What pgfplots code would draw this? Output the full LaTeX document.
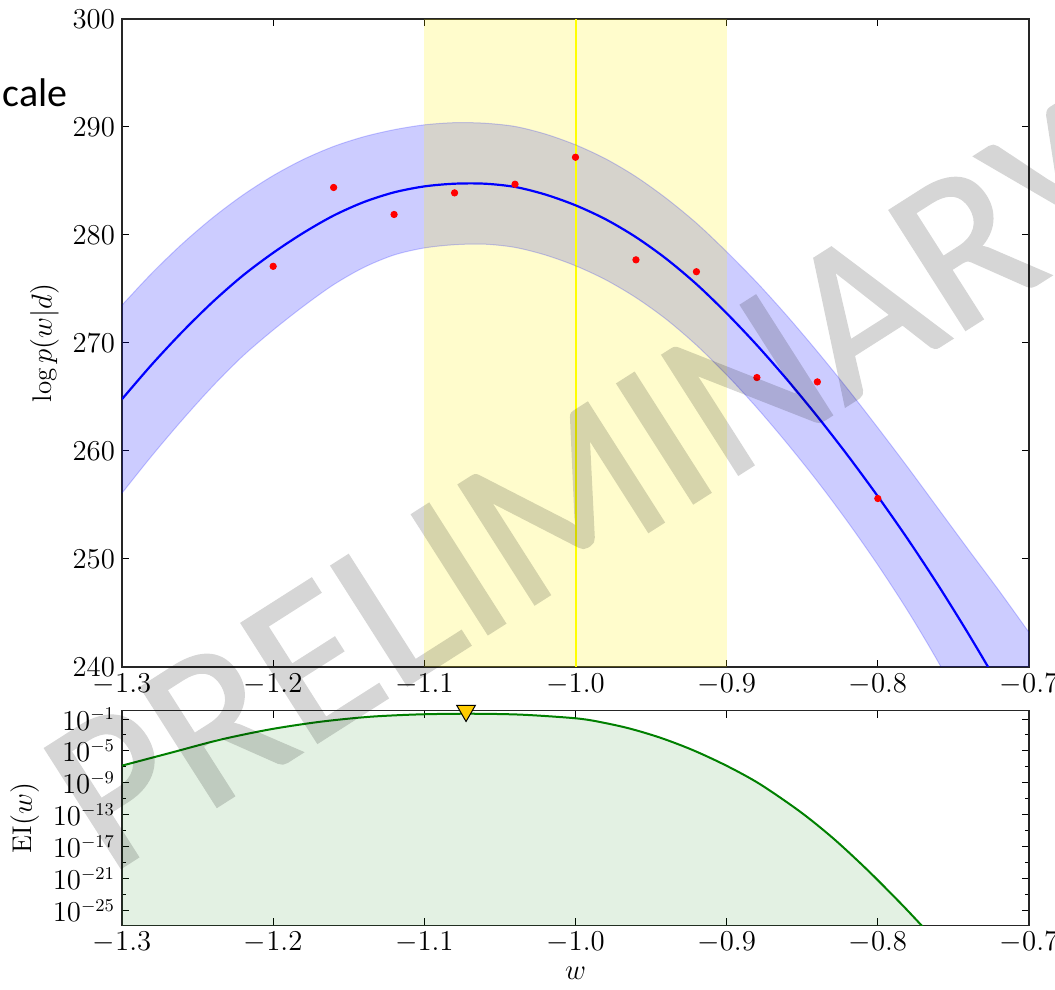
\documentclass[border=0pt]{standalone}
\usepackage{pgfplots}
\pgfplotsset{compat=1.18}
\usepgfplotslibrary{fillbetween}
\usepackage{fontspec}
\newfontfamily\calib{Carlito}
\newfontfamily\calibheavy{Carlito}[FakeBold=1.2]

% posterior mean and band of the GP fit
\pgfplotstableread{
x      mean    upper   lower
-1.30  264.8   273.5   256.1
-1.28  268.05  276.5   259.6
-1.26  271.05  279.2   262.9
-1.24  273.8   281.6   266.0
-1.22  276.25  283.7   268.8
-1.20  278.35  285.5   271.2
-1.18  280.2   287.0   273.4
-1.16  281.8   288.2   275.4
-1.14  283.05  289.1   277.0
-1.12  283.95  289.75  278.15
-1.10  284.5   290.2   278.8
-1.08  284.75  290.4   279.1
-1.06  284.75  290.35  279.15
-1.04  284.45  290.05  278.85
-1.02  283.75  289.35  278.15
-1.00  282.75  288.35  277.15
-0.98  281.45  287.05  275.85
-0.96  279.8   285.4   274.2
-0.94  277.8   283.4   272.2
-0.92  275.45  281.1   269.8
-0.90  272.75  278.45  267.05
-0.88  269.8   275.6   264.0
-0.86  266.6   272.5   260.7
-0.84  263.2   269.2   257.2
-0.82  259.6   265.75  253.45
-0.80  255.8   262.15  249.45
-0.78  251.8   258.45  245.15
-0.76  247.55  254.65  240.45
-0.74  243.05  250.85  235.25
-0.72  238.3   247.1   229.5
-0.70  233.3   243.2   223.4
}\gpfit

% observed evaluations
\pgfplotstableread{
x      y
-1.20  277.1
-1.16  284.4
-1.12  281.9
-1.08  283.9
-1.04  284.7
-1.00  287.2
-0.96  277.7
-0.92  276.6
-0.88  266.8
-0.84  266.4
-0.80  255.6
}\obs

% expected improvement
\pgfplotstableread{
x        ei
-1.3000  1.45e-7
-1.2682  5.62e-6
-1.2352  2.51e-4
-1.2021  5.01e-3
-1.1690  4.47e-2
-1.1359  0.191
-1.1029  0.380
-1.0698  0.457
-1.0367  0.355
-1.0036  0.141
-0.9884  0.0617
-0.9659  7.76e-3
-0.9441  4.68e-4
-0.9223  1.26e-5
-0.8998  1.32e-7
-0.8780  7.08e-10
-0.8512  2.34e-13
-0.8293  1.05e-16
-0.8069  1.26e-20
-0.7851  9.12e-25
-0.7715  1.74e-27
-0.7640  5.01e-29
}\eitab

\definecolor{mplgreen}{RGB}{0,128,0}
\definecolor{marker}{RGB}{255,204,0}

\pgfplotsset{
  every axis/.append style={
    scale only axis,
    width=453.5pt,
    xmin=-1.3, xmax=-0.7,
    xtick={-1.3,-1.2,-1.1,-1.0,-0.9,-0.8,-0.7},
    xticklabel style={/pgf/number format/.cd, fixed, fixed zerofill, precision=1},
    tick align=inside,
    major tick length=3.5pt,
    minor tick length=2pt,
    tick style={black, line width=0.5pt},
    axis line style={black!85, line width=0.6pt},
    tick label style={font=\fontsize{13.5}{16}\selectfont},
    label style={font=\fontsize{13.5}{16}\selectfont},
  },
}

\begin{document}
\begin{tikzpicture}[x=1pt,y=1pt]
\begin{axis}[
  at={(0,0)}, anchor=south west,
  height=324pt,
  ymin=240, ymax=300,
  ytick={240,250,...,300},
  ylabel={$\log p(w|d)$},
]
  % evaluation window and current point
  \addplot[draw=none, fill=yellow, fill opacity=0.2]
    coordinates {(-1.1,240) (-0.9,240) (-0.9,300) (-1.1,300)} -- cycle;
  \addplot[color={rgb,255:red,255;green,255;blue,0}, line width=1pt]
    coordinates {(-1.0,240) (-1.0,300)};
  % confidence band
  \addplot[name path=up, smooth, draw=blue, draw opacity=0.2, line width=0.5pt]
    table[x=x, y=upper] {\gpfit};
  \addplot[name path=lo, smooth, draw=blue, draw opacity=0.2, line width=0.5pt]
    table[x=x, y=lower] {\gpfit};
  \addplot[fill=blue, fill opacity=0.2, draw=none] fill between[of=up and lo];
  \addplot[blue, line width=1.1pt, smooth] table[x=x, y=mean] {\gpfit};
  \addplot[only marks, mark=*, mark size=1.6pt, red, mark options={draw=red, fill=red}]
    table[x=x, y=y] {\obs};
\end{axis}

\begin{axis}[
  at={(0,-129.15pt)}, anchor=south west,
  height=107.3pt,
  ymode=log,
  ymin=1.48e-27, ymax=1.096,
  ytick={1e-1,1e-5,1e-9,1e-13,1e-17,1e-21,1e-25},
  minor ytick={1e-3,1e-7,1e-11,1e-15,1e-19,1e-23},
  xlabel={$w$},
  ylabel={$\mathrm{EI}(w)$},
  clip mode=individual,
]
  \addplot[name path=ei, draw=none, smooth] table[x=x, y=ei] {\eitab};
  \addplot[name path=floor, draw=none] coordinates {(-1.3,1e-30) (-0.764,1e-30)};
  \addplot[fill=mplgreen, fill opacity=0.11, draw=none] fill between[of=ei and floor];
  \addplot[mplgreen, line width=1pt, smooth] table[x=x, y=ei] {\eitab};
  \addplot[only marks, mark=triangle*, mark size=5.4pt, clip mode=individual,
    mark options={rotate=180, fill=marker, draw=black, line width=0.5pt}]
    coordinates {(-1.0724,1.096)};
\end{axis}

% watermark and cropped heading
\begin{scope}[transparency group, opacity=0.16]
  \node[anchor=base west, rotate=32.5, text=black,
        font=\calibheavy\fontsize{110}{110}\selectfont, inner sep=0pt]
    at (-7.2,-104.6) {PRELIMINARY};
\end{scope}
\node[anchor=base east, font=\calib\fontsize{20}{20}\selectfont, inner sep=0pt]
  at (-27,280.15) {cale};

\pgfresetboundingbox
\path[use as bounding box] (-61,-161.5) rectangle (466.5,333.5);
\end{tikzpicture}
\end{document}
